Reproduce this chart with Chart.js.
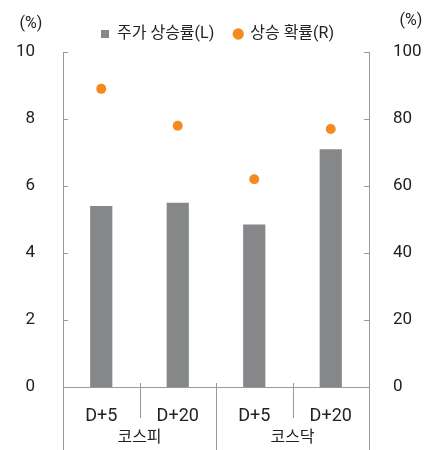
<!DOCTYPE html>
<html>
<head>
<meta charset="utf-8">
<script src="https://cdn.jsdelivr.net/npm/chart.js@4/dist/chart.umd.min.js"></script>
<style>
  html, body { margin: 0; padding: 0; background: #fff; }
  #wrap { width: 435px; height: 450px; }
</style>
</head>
<body>
<div id="wrap"><canvas id="chart" width="435" height="450"></canvas></div>
<script>
const labels = ['D+5', 'D+20', 'D+5', 'D+20'];
const groups = ['코스피', '코스닥'];
const riseRate = [5.4, 5.5, 4.85, 7.1];
const riseProb = [89, 78, 62, 77];
const leftTicks = [0, 2, 4, 6, 8, 10];

const FONT = "Roboto, 'Noto Sans CJK KR', sans-serif";
const LINE = '#9a9a9a';
const TEXT = '#222';

const extras = {
    id: 'extras',
    afterDraw(chart) {
        const ctx = chart.ctx;
        const area = chart.chartArea;
        const x = chart.scales.x;
        const half = (x.getPixelForValue(1) - x.getPixelForValue(0)) / 2;
        ctx.save();
        ctx.strokeStyle = LINE;
        ctx.lineWidth = 1;
        // inward ticks on the two value axes
        const y = chart.scales.y;
        leftTicks.forEach(v => {
            const py = Math.round(y.getPixelForValue(v)) + 0.5;
            ctx.beginPath();
            ctx.moveTo(area.left, py); ctx.lineTo(area.left + 5, py);
            ctx.moveTo(area.right - 5, py); ctx.lineTo(area.right, py);
            ctx.stroke();
        });
        // category separators
        for (let i = 0; i <= labels.length; i++) {
            const px = Math.round(x.getPixelForValue(0) - half + i * 2 * half) + 0.5;
            ctx.beginPath();
            ctx.moveTo(px, area.bottom - 4);
            ctx.lineTo(px, i % 2 === 0 ? chart.height : area.bottom + 31);
            ctx.stroke();
        }
        // group labels
        ctx.fillStyle = TEXT;
        ctx.font = '16px ' + FONT;
        ctx.textAlign = 'center';
        ctx.textBaseline = 'middle';
        groups.forEach((g, i) => {
            const cx = (x.getPixelForValue(i * 2) + x.getPixelForValue(i * 2 + 1)) / 2;
            ctx.fillText(g, cx, area.bottom + 51);
        });
        // unit labels
        ctx.fillText('(%)', 31, 24);
        ctx.fillText('(%)', 411, 21);
        ctx.restore();
    }
};

new Chart(document.getElementById('chart'), {
    type: 'bar',
    data: {
        labels: labels,
        datasets: [{
            type: 'line',
            label: '상승 확률(R)',
            data: riseProb,
            yAxisID: 'y1',
            showLine: false,
            pointRadius: 5,
            pointHoverRadius: 5,
            pointStyle: 'circle',
            pointBackgroundColor: '#F58A1F',
            pointBorderWidth: 0,
            backgroundColor: '#F58A1F',
            borderColor: '#F58A1F',
            order: 0
        }, {
            label: '주가 상승률(L)',
            data: riseRate,
            yAxisID: 'y',
            backgroundColor: '#858789',
            pointStyle: 'rect',
            barPercentage: 0.29,
            categoryPercentage: 1,
            order: 1
        }]
    },
    options: {
        responsive: false,
        animation: false,
        layout: { padding: { top: 6, left: 0, right: 0, bottom: 0 } },
        scales: {
            x: {
                grid: { display: false },
                border: { display: true, color: LINE },
                ticks: { color: TEXT, font: { family: FONT, size: 18 }, padding: 11 },
                afterFit(s) { s.height = 63; }
            },
            y: {
                position: 'left',
                min: 0, max: 10,
                grid: { display: false },
                border: { display: true, color: LINE },
                ticks: { stepSize: 2, color: TEXT, font: { family: FONT, size: 17 }, padding: 20 },
                afterFit(s) { s.width = 63; }
            },
            y1: {
                position: 'right',
                min: 0, max: 100,
                grid: { display: false },
                border: { display: true, color: LINE },
                ticks: { stepSize: 20, color: TEXT, font: { family: FONT, size: 17 }, padding: 16 },
                afterFit(s) { s.width = 66; }
            }
        },
        plugins: {
            legend: {
                reverse: true,
                labels: {
                    usePointStyle: true,
                    boxWidth: 8,
                    boxHeight: 8,
                    padding: 20,
                    color: TEXT,
                    font: { family: FONT, size: 16 }
                }
            },
            tooltip: { enabled: false }
        }
    },
    plugins: [extras]
});
</script>
</body>
</html>
